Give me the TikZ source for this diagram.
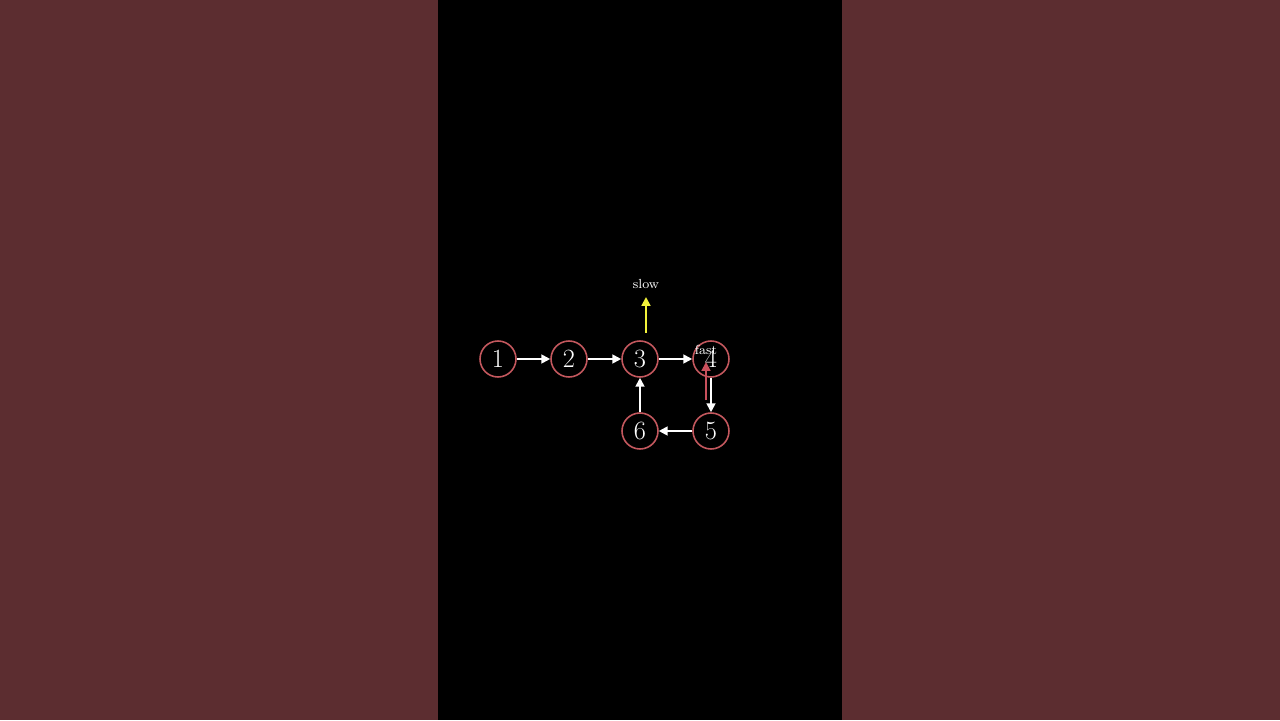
\documentclass[tikz,border=0pt]{standalone}
\usepackage{tikz}
\usepackage{xcolor}
\usetikzlibrary{arrows.meta, calc, positioning}

\definecolor{sidebg}{HTML}{5C2D30}
\definecolor{ringred}{HTML}{C4585E}
\definecolor{fastred}{HTML}{C9505C}
\definecolor{slowyellow}{HTML}{F2F23A}

\tikzset{
    listnode/.style={circle, draw=ringred, line width=0.9pt, minimum size=0.72cm, inner sep=0pt,
        text=white, font=\fontsize{15}{18}\selectfont},
    link/.style={draw=white, line width=1.1pt, -{Triangle[length=5pt, width=5pt]}},
    ptrlabel/.style={text=white, font=\fontsize{7.5}{9}\selectfont, inner sep=0pt}
}

\begin{document}
\begin{tikzpicture}[x=1.42cm, y=1.44cm]
                        % background
                        \fill[sidebg] (-12.8cm, -7.22cm) rectangle (12.8cm, 7.18cm);
                        \fill[black] (-4.04cm, -7.22cm) rectangle (4.04cm, 7.18cm);
                        \node[listnode] (n1) at (-2, 0) {1};
                        \node[listnode] (n2) at (-1, 0) {2};
                        \node[listnode] (n3) at (0, 0) {3};
                        \node[listnode] (n4) at (1, 0) {4};
                        \node[listnode] (n5) at (1, -1) {5};
                        \node[listnode] (n6) at (0, -1) {6};
                        \draw[link] (n1) -- (n2);
                        \draw[link] (n2) -- (n3);
                        \draw[link] (n3) -- (n4);
                        \draw[link] (n4) -- (n5);
                        \draw[link] (n5) -- (n6);
                        \draw[link] (n6) -- (n3);
                        % pointers
                        \coordinate (s0) at ($(n3)+(0.12cm, 0.52cm)$);
                        \coordinate (s1) at ($(n3)+(0.12cm, 1.24cm)$);
                        \node[ptrlabel] (slow) at ($(n3)+(0.12cm, 1.5cm)$) {slow};
                        \draw[link, draw=slowyellow, {Triangle[length=5pt, width=5pt]}-] (s1) -- (s0);
                        \coordinate (f0) at ($(n4)+(-0.1cm, -0.82cm)$);
                        \coordinate (f1) at ($(n4)+(-0.1cm, -0.06cm)$);
                        \node[ptrlabel] (fast) at ($(n4)+(-0.1cm, 0.19cm)$) {fast};
                        \draw[link, draw=fastred, -{Triangle[length=5pt, width=5pt, fill=fastred]}] (f0) -- (f1);
                    \end{tikzpicture}
\end{document}
